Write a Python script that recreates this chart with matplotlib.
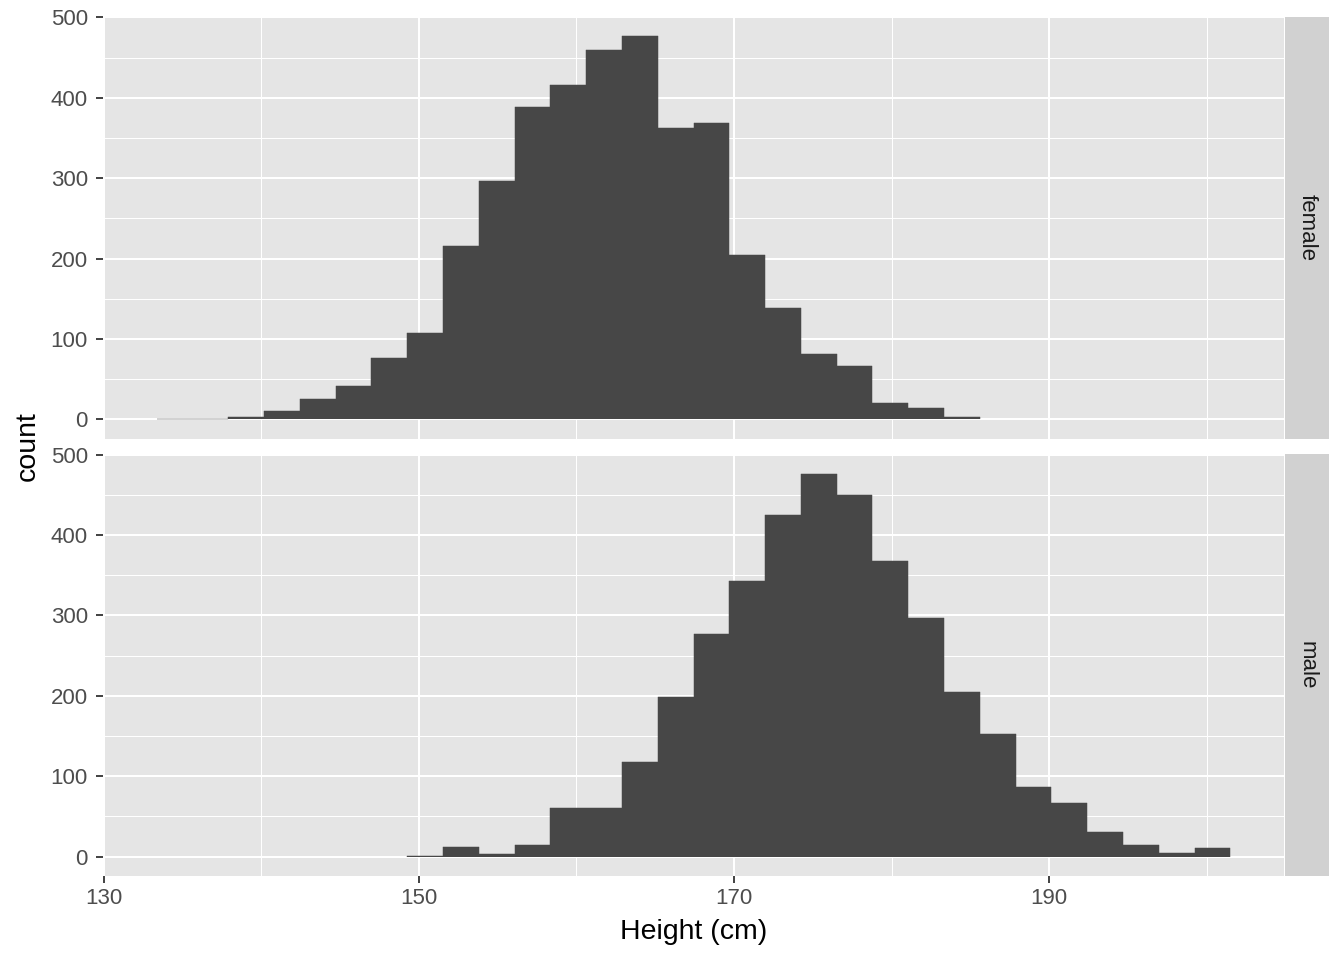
import numpy as np
import matplotlib as mpl
mpl.use('Agg')
from matplotlib import pyplot as plt

# histogram of heights, 30 bins shared by both facets
bin_start = 133.36
bin_width = 2.271
n_bins    = 30

female_counts = [1, 1, 3, 10, 25, 42, 76, 107, 215, 296, 389, 416, 460, 477, 363,
                 369, 204, 138, 81, 66, 20, 14, 3, 0, 0, 0, 0, 0, 0, 0]
male_counts   = [0, 0, 0, 0, 0, 0, 0, 1, 12, 3, 14, 60, 61, 117, 199,
                 277, 343, 425, 476, 450, 368, 297, 205, 152, 87, 66, 30, 14, 4, 10]

facet_labels = ['female', 'male']
x_ticks      = [130, 150, 170, 190]
y_ticks      = [0, 100, 200, 300, 400, 500]
x_title      = 'Height (cm)'
y_title      = 'count'

PANEL_BG = '#E5E5E5'
STRIP_BG = '#D1D1D1'
BAR_COL  = '#474747'
TEXT_COL = '#4D4D4D'
TICK_COL = '#333333'

plt.rcParams['font.family'] = ['Liberation Sans', 'DejaVu Sans']

W, H = 1344, 960
fig  = plt.figure(figsize=(W / 100, H / 100), dpi=100)

edges = bin_start + bin_width * np.arange(n_bins + 1)
x_pad = 0.05 * (edges[-1] - edges[0])
x_lim = (edges[0] - x_pad, edges[-1] + x_pad)
y_max = max(max(female_counts), max(male_counts))
y_lim = (-0.05 * y_max, 1.05 * y_max)

def px_rect(left, top, right, bottom):
    return [left / W, 1 - bottom / H, (right - left) / W, (bottom - top) / H]

panel_left, panel_right = 103, 1284
strip_left, strip_right = 1284.5, 1329
panel_rows = [(16.7, 438.5), (454.0, 875.7)]

for i, (label, counts) in enumerate(zip(facet_labels, [female_counts, male_counts])):
    top, bottom = panel_rows[i]
    ax = fig.add_axes(px_rect(panel_left, top, panel_right, bottom))
    ax.set_facecolor(PANEL_BG)
    for s in ax.spines.values():
        s.set_visible(False)

    # one filled step outline over the non-empty bins, so bars have no seams
    counts = np.array(counts)
    nz     = np.nonzero(counts)[0]
    lo, hi = nz[0], nz[-1] + 1
    ax.stairs(counts[lo:hi], edges[lo:hi + 1], fill=True, baseline=0,
              facecolor=BAR_COL, edgecolor=BAR_COL, linewidth=0.35, zorder=2)

    ax.set_xlim(*x_lim)
    ax.set_ylim(*y_lim)
    ax.set_xticks(x_ticks)
    ax.set_xticks([t + 10 for t in x_ticks], minor=True)
    ax.set_yticks(y_ticks)
    ax.set_yticks([t + 50 for t in y_ticks[:-1]], minor=True)

    ax.grid(which='major', color='white', linewidth=1.45, zorder=1)
    ax.grid(which='minor', color='white', linewidth=0.72, zorder=1)
    ax.set_axisbelow(True)

    ax.tick_params(which='major', length=4.8, width=1.3, color=TICK_COL,
                   labelsize=16, labelcolor=TEXT_COL, pad=4)
    ax.tick_params(axis='y', which='major', pad=6)
    ax.tick_params(which='minor', length=0)
    if i == 0:
        ax.tick_params(axis='x', which='major', length=0, labelbottom=False)

    sx = fig.add_axes(px_rect(strip_left, top, strip_right, bottom))
    sx.set_facecolor(STRIP_BG)
    sx.set_xticks([])
    sx.set_yticks([])
    for s in sx.spines.values():
        s.set_visible(False)
    sx.text(0.5, 0.5, label, rotation=-90, ha='center', va='center',
            fontsize=16, color='#1A1A1A', transform=sx.transAxes)

fig.text((panel_left + panel_right) / 2 / W, 1 - 932 / H, x_title,
         ha='center', va='center', fontsize=20.5, color='black')
fig.text(28 / W, 1 - 446 / H, y_title, rotation=90,
         ha='center', va='center', fontsize=20.5, color='black')

fig.savefig('out.png', dpi=100, facecolor='white')
